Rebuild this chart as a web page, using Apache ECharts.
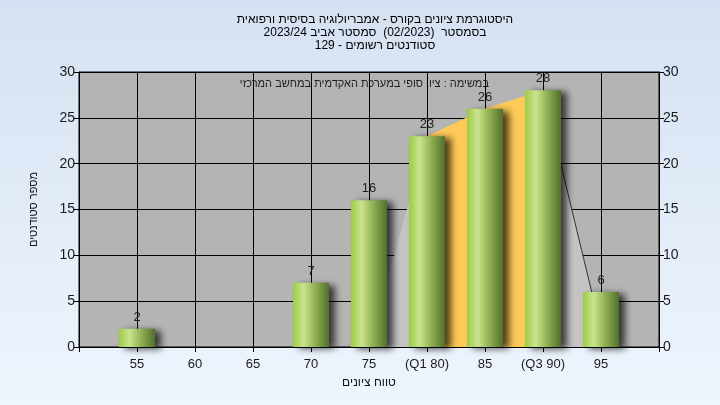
<!DOCTYPE html>
<html><head><meta charset="utf-8">
<script src="https://cdn.jsdelivr.net/npm/echarts@6/dist/echarts.min.js"></script>
<style>html,body{margin:0;padding:0;}#c{width:720px;height:405px;background:linear-gradient(#d5e1f2,#eef5fd);}</style>
</head><body><div id="c"></div>
<script>
const titleLines = ['היסטוגרמת ציונים בקורס - אמבריולוגיה בסיסית ורפואית', 'בסמסטר  (02/2023)  סמסטר אביב 2023/24', 'סטודנטים רשומים - 129'];
const note = 'במשימה : ציון סופי במערכת האקדמית במחשב המרכזי';
const categories = [55, 60, 65, 70, 75, 80, 85, 90, 95];
const tickLabels = {80: '(Q1 80)', 90: '(Q3 90)'};
const counts = [2, 0, 0, 7, 16, 23, 26, 28, 6];
const areaLeft = [[75, 0], [80, 23]];
const areaIqr = [[80, 23], [85, 26], [90, 28]];
const areaRight = [[90, 28], [94.2, 6], [94.2, 0]];
const xName = 'טווח ציונים';
const yName = 'מספר סטודנטים';

const font = 'Liberation Sans, DejaVu Sans, sans-serif';
const chart = echarts.init(document.getElementById('c'), null, {renderer: 'canvas'});
const barData = categories.map((c, i) => [c, counts[i]]).filter(d => d[1] > 0);
const yAxisBase = {
  type: 'value', min: 0, max: 30, interval: 5,
  axisLine: {show: true, lineStyle: {color: '#000'}},
  axisTick: {show: true, length: 5, lineStyle: {color: '#000'}},
  axisLabel: {color: '#1a1a1a', fontSize: 14, fontFamily: font, margin: 4},
};
chart.setOption({
  animation: false,
  title: {
    text: titleLines.join('\n'), left: 370, textAlign: 'center', top: 8,
    textStyle: {fontSize: 12, fontWeight: 'normal', color: '#000', fontFamily: font, lineHeight: 13}
  },
  graphic: [{
    type: 'text', right: 231, top: 78,
    style: {text: note, fill: '#222', font: '11px ' + font}
  }],
  grid: {left: 79, right: 61, top: 72, bottom: 58, show: true, backgroundColor: '#b4b4b4', borderColor: '#000', borderWidth: 1},
  xAxis: {
    type: 'value', min: 50, max: 100, interval: 5,
    name: xName, nameLocation: 'middle', nameGap: 30,
    nameTextStyle: {fontSize: 12, color: '#111', fontFamily: font},
    axisLine: {show: true, lineStyle: {color: '#000'}},
    axisTick: {show: true, length: 5, lineStyle: {color: '#000'}},
    axisLabel: {color: '#1a1a1a', fontSize: 13, fontFamily: font, margin: 11,
      formatter: v => (v <= 50 || v >= 100) ? '' : (tickLabels[v] || String(v))},
    splitLine: {show: true, lineStyle: {color: '#000', width: 1}}
  },
  yAxis: [
    Object.assign({}, yAxisBase, {position: 'left', name: yName, nameLocation: 'middle', nameGap: 40,
      nameTextStyle: {fontSize: 11, color: '#111', fontFamily: font},
      splitLine: {show: true, lineStyle: {color: '#000', width: 1}}}),
    Object.assign({}, yAxisBase, {position: 'right', splitLine: {show: false}})
  ],
  series: [
    {type: 'line', data: areaLeft, symbol: 'none', lineStyle: {width: 0}, areaStyle: {color: '#c4c4c4', opacity: 1}, z: 1},
    {type: 'line', data: areaRight, symbol: 'none', lineStyle: {width: 1, color: '#333'}, areaStyle: {color: '#c4c4c4', opacity: 1}, z: 1},
    {type: 'line', data: areaIqr, symbol: 'none', lineStyle: {width: 0}, areaStyle: {color: '#ffca58', opacity: 1}, z: 1},
    {
      type: 'bar', data: barData, barWidth: 36, z: 3,
      itemStyle: {
        color: new echarts.graphic.LinearGradient(0, 0, 1, 0, [
          {offset: 0, color: '#9dcc45'}, {offset: 0.3, color: '#cae48f'},
          {offset: 0.55, color: '#9bbb5c'}, {offset: 1, color: '#52702b'}
        ]),
        shadowColor: 'rgba(0,0,0,0.7)', shadowBlur: 7, shadowOffsetX: 6, shadowOffsetY: 2
      },
      label: {show: true, position: 'top', distance: 5, color: '#222', fontSize: 13, fontFamily: font}
    }
  ]
});
</script></body></html>
